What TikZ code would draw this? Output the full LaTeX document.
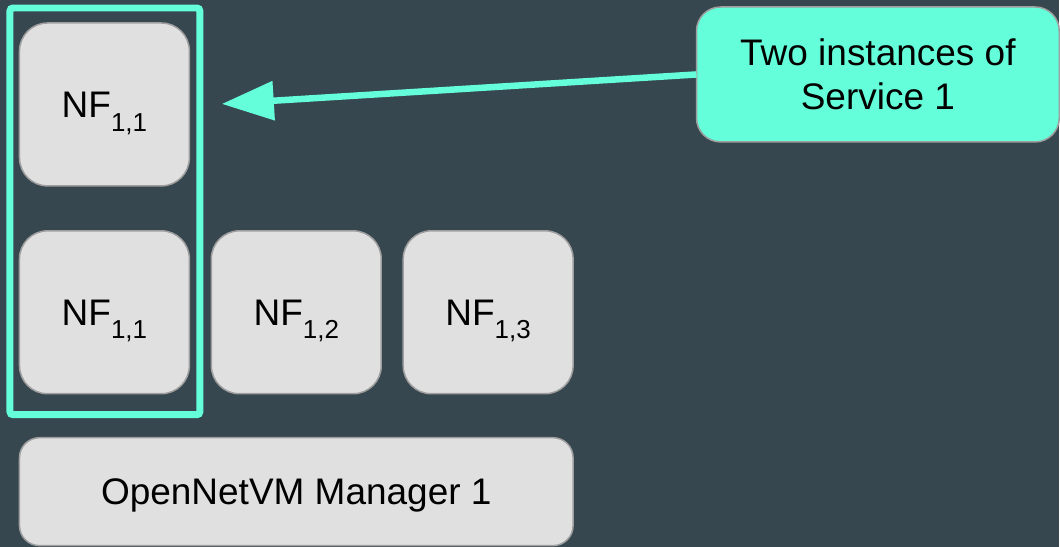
\documentclass[tikz,border=0pt]{standalone}
\usepackage{fontspec}
\setmainfont{Liberation Sans}
\usepackage{tikz}
\usetikzlibrary{arrows.meta,positioning}
\definecolor{slate}{HTML}{37474F}
\definecolor{mint}{HTML}{64FFDA}
\definecolor{boxgray}{HTML}{E0E0E0}
\definecolor{edgegray}{HTML}{9E9E9E}
\newcommand{\nfname}[1]{NF\raisebox{-14pt}{\fontsize{26}{31}\selectfont #1}}
\tikzstyle{nfbox}=[
  draw=edgegray,
  fill=boxgray,
  line width=1.5pt,
  font={\fontsize{37}{44}\selectfont},
  inner sep=0pt,
  minimum height=163pt,
  minimum width=170pt,
  outer sep=0pt,
  rectangle,
  rounded corners=28pt,
  text centered,
  text depth=0pt,
]
\tikzstyle{manager}=[
  nfbox,
  minimum height=108pt,
  minimum width=554pt,
  rounded corners=20pt,
]
\tikzstyle{note}=[
  nfbox,
  fill=mint,
  align=center,
  minimum height=135pt,
  minimum width=363pt,
  rounded corners=24pt,
]
\tikzstyle{frame}=[
  draw=mint,
  line width=7pt,
  rounded corners=3pt,
]
\tikzstyle{pointer}=[
  draw=mint,
  line width=6.5pt,
  -{Triangle[length=52pt,width=38pt]},
]
\tikzset{
  node distance=45pt,
  x=1pt,
  y=1pt,
}

\begin{document}
\begin{tikzpicture}
    \fill [slate] (0,0) rectangle (1060,-547);
    %%
    \node (nfa) [nfbox] at (104.5,-104.5) {\nfname{1,1}};
    \node (nfb) [nfbox, below=45pt of nfa] {\nfname{1,1}};
    \node (nfc) [nfbox, right=22pt of nfb] {\nfname{1,2}};
    \node (nfd) [nfbox, right=22pt of nfc] {\nfname{1,3}};
    \node (mgr) [manager, below=44pt of nfb.south west, anchor=north west] {OpenNetVM Manager 1};
    %%
    \draw [frame] (10,-8) rectangle (200,-415);
    %%
    \node (note) [note] at (878.5,-74.5) {Two instances of\\Service 1};
    \coordinate (tip) at (222,-104);
    \draw [pointer] (note.west) -- (tip);
\end{tikzpicture}
\end{document}
